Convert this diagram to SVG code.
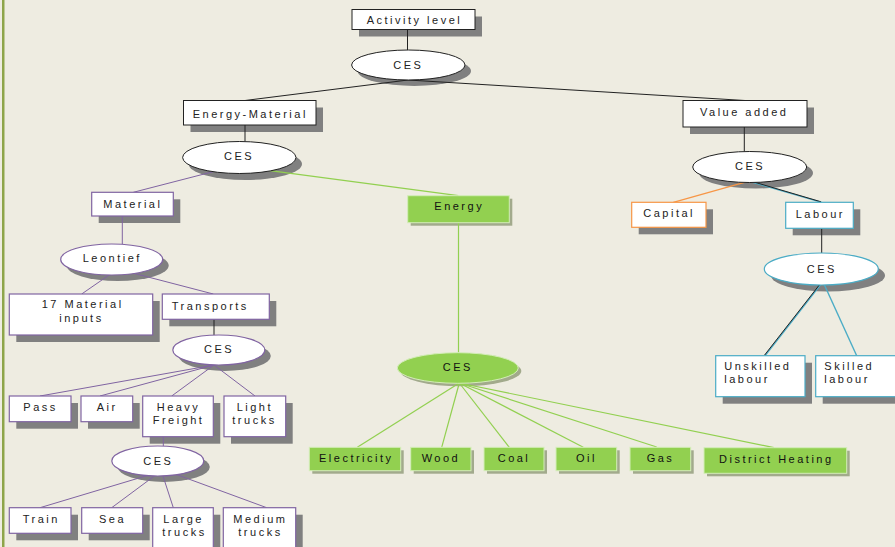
<svg xmlns="http://www.w3.org/2000/svg" width="895" height="547" viewBox="0 0 895 547">
<style>
text{font-family:"Liberation Sans",Arial,sans-serif;font-size:11px;letter-spacing:2.5px;fill:#222}
.sh{fill:#808080}
.gsh{fill:#A2AA8C}
.bk{fill:#fff;stroke:#222;stroke-width:1}
.pu{fill:#fff;stroke:#8064A2;stroke-width:1.2}
.gr{fill:#92D050;stroke:#D4EDB8;stroke-width:1}
.or{fill:#fff;stroke:#F79646;stroke-width:1.2}
.bl{fill:#fff;stroke:#4BACC6;stroke-width:1.2}
.lb{stroke:#222;stroke-width:1;fill:none}
.lp{stroke:#8064A2;stroke-width:1;fill:none}
.lg{stroke:#92D050;stroke-width:1.2;fill:none}
.lo{stroke:#F79646;stroke-width:1.2;fill:none}
.lt{stroke:#4BACC6;stroke-width:1.4;fill:none}
</style>
<rect x="0" y="0" width="895" height="547" fill="#EEECE1"/>
<rect x="2" y="0" width="2.5" height="547" fill="#8EA54A"/>

<g id="shadows">
<rect class="sh" x="359" y="16.5" width="123" height="20"/>
<ellipse class="sh" cx="414.3" cy="71" rx="56.7" ry="15"/>
<rect class="sh" x="190.5" y="107.5" width="132.5" height="24.5"/>
<rect class="sh" x="690" y="107.5" width="124" height="26.5"/>
<ellipse class="sh" cx="245.3" cy="164" rx="56.7" ry="16"/>
<rect class="sh" x="98.7" y="199.3" width="81.6" height="23.7"/>
<rect class="gsh" x="410.7" y="198.7" width="101.6" height="27"/>
<ellipse class="sh" cx="117.7" cy="265.5" rx="51" ry="15.5"/>
<rect class="sh" x="16.3" y="301" width="143.4" height="41"/>
<rect class="sh" x="169.3" y="301" width="107" height="25.3"/>
<ellipse class="sh" cx="224.8" cy="356" rx="46" ry="15"/>
<rect class="sh" x="16.3" y="403" width="61.7" height="25.7"/>
<rect class="sh" x="88" y="403" width="51.7" height="25.7"/>
<rect class="sh" x="149.7" y="403" width="70.6" height="40.7"/>
<rect class="sh" x="231" y="403" width="61.7" height="40.7"/>
<ellipse class="sh" cx="163.8" cy="467" rx="46" ry="15"/>
<rect class="sh" x="16.3" y="514.7" width="61.7" height="25.6"/>
<rect class="sh" x="88.7" y="514.7" width="61" height="25.6"/>
<rect class="sh" x="159.7" y="514.7" width="60.6" height="45"/>
<rect class="sh" x="230.3" y="514.7" width="72.4" height="45"/>
<ellipse class="gsh" cx="460.8" cy="371" rx="60.5" ry="15.3"/>
<rect class="gsh" x="312.3" y="450.3" width="91.4" height="23.4"/>
<rect class="gsh" x="413.7" y="450.3" width="60.3" height="23.4"/>
<rect class="gsh" x="487" y="450.3" width="60" height="23.4"/>
<rect class="gsh" x="559" y="450.3" width="60.7" height="23.4"/>
<rect class="gsh" x="633" y="450.3" width="60.7" height="23.4"/>
<rect class="gsh" x="707" y="450.7" width="142.7" height="25.6"/>
<ellipse class="sh" cx="756" cy="173" rx="57" ry="15.5"/>
<rect class="sh" x="638.7" y="209.3" width="74.3" height="25"/>
<rect class="sh" x="792.7" y="209.3" width="67.6" height="26"/>
<ellipse class="sh" cx="828" cy="275.5" rx="57" ry="16"/>
<rect class="sh" x="722.7" y="362.7" width="89.3" height="41"/>
<rect class="sh" x="822.7" y="362.7" width="90" height="41"/>
</g>

<g id="connectors">
<line class="lb" x1="407.5" y1="29" x2="407.5" y2="50"/>
<line class="lb" x1="408" y1="80" x2="245" y2="100.5"/>
<line class="lb" x1="408" y1="80" x2="745" y2="100.5"/>
<line class="lb" x1="245" y1="125" x2="245" y2="141.5"/>
<line class="lp" x1="222" y1="169.4" x2="133.3" y2="192.3"/>
<line class="lg" x1="255" y1="168.7" x2="458.3" y2="195.7"/>
<line class="lp" x1="122.3" y1="216" x2="122.3" y2="244"/>
<line class="lp" x1="112" y1="273" x2="81.7" y2="294"/>
<line class="lp" x1="125" y1="271" x2="213.3" y2="294"/>
<line class="lb" x1="214" y1="319.3" x2="214" y2="335"/>
<line class="lp" x1="214" y1="365" x2="40" y2="396"/>
<line class="lp" x1="214" y1="365" x2="100" y2="396"/>
<line class="lp" x1="214" y1="365" x2="171.7" y2="396"/>
<line class="lp" x1="214" y1="365" x2="255" y2="396"/>
<line class="lp" x1="163.3" y1="436.7" x2="163.3" y2="446"/>
<line class="lp" x1="150" y1="474.7" x2="40" y2="507.7"/>
<line class="lp" x1="156" y1="474.8" x2="111.7" y2="507.7"/>
<line class="lp" x1="162" y1="473" x2="173.3" y2="507.7"/>
<line class="lp" x1="165" y1="470.3" x2="266.7" y2="507.7"/>
<line class="lg" x1="458.5" y1="222.7" x2="458.5" y2="352.7"/>
<line class="lg" x1="459.3" y1="383" x2="357.3" y2="447.3"/>
<line class="lg" x1="459.3" y1="383" x2="441.7" y2="447.3"/>
<line class="lg" x1="459.3" y1="383" x2="509.3" y2="447.3"/>
<line class="lg" x1="459.3" y1="383" x2="583.3" y2="447.3"/>
<line class="lg" x1="459.3" y1="383" x2="656.7" y2="447"/>
<line class="lg" x1="459.3" y1="383" x2="774" y2="447.7"/>
<line class="lb" x1="744.3" y1="127" x2="744.3" y2="151.7"/>
<line class="lo" x1="748" y1="181.3" x2="673.3" y2="202.3"/>
<line class="lt" x1="752" y1="182" x2="821.7" y2="202.3"/>
<line class="lb" x1="751.5" y1="181.3" x2="821" y2="201.8"/>
<line class="lb" x1="821.7" y1="228.3" x2="821.7" y2="253.3"/>
<line class="lt" x1="821" y1="284" x2="765" y2="355.7"/>
<line class="lb" x1="820.4" y1="283.6" x2="764.4" y2="355.3"/>
<line class="lt" x1="824" y1="284" x2="856.7" y2="355.7"/>
</g>

<g id="activity"><rect class="bk" x="352" y="9.5" width="123" height="20"/><text x="366.7" y="24">Activity level</text></g>
<g id="ces_top"><ellipse class="bk" cx="408.3" cy="65" rx="56.7" ry="15"/><text x="393.3" y="68.5">CES</text></g>
<g id="energy_material"><rect class="bk" x="183.5" y="100.5" width="132.5" height="24.5"/><text x="192.7" y="118.3">Energy-Material</text></g>
<g id="value_added"><rect class="bk" x="683" y="100.5" width="124" height="26.5"/><text x="700" y="116">Value added</text></g>
<g id="ces_em"><ellipse class="bk" cx="239.3" cy="157.5" rx="56.7" ry="16"/><text x="224" y="160">CES</text></g>
<g id="material"><rect class="pu" x="91.7" y="192.3" width="81.6" height="23.7"/><text x="103.3" y="208.3">Material</text></g>
<g id="energy"><rect class="gr" x="407.7" y="195.7" width="101.6" height="27"/><text x="434.3" y="210" style="fill:#111">Energy</text></g>
<g id="leontief"><ellipse class="pu" cx="111.7" cy="259.5" rx="51" ry="15.5"/><text x="82.7" y="262.3">Leontief</text></g>
<g id="material_inputs"><rect class="pu" x="9.3" y="294" width="143.4" height="41"/><text x="41.7" y="308.3">17 Material</text><text x="59.3" y="321.7">inputs</text></g>
<g id="transports"><rect class="pu" x="162.3" y="294" width="107" height="25.3"/><text x="171.7" y="310">Transports</text></g>
<g id="ces_transports"><ellipse class="pu" cx="218.8" cy="350" rx="46" ry="15"/><text x="204" y="353.3">CES</text></g>
<g id="pass"><rect class="pu" x="9.3" y="396" width="61.7" height="25.7"/><text x="23.3" y="410.7">Pass</text></g>
<g id="air"><rect class="pu" x="81" y="396" width="51.7" height="25.7"/><text x="96.7" y="410.7">Air</text></g>
<g id="heavy_freight"><rect class="pu" x="142.7" y="396" width="70.6" height="40.7"/><text x="156.7" y="410.7">Heavy</text><text x="152.7" y="424">Freight</text></g>
<g id="light_trucks"><rect class="pu" x="224" y="396" width="61.7" height="40.7"/><text x="236.7" y="410.7">Light</text><text x="232.3" y="424">trucks</text></g>
<g id="ces_freight"><ellipse class="pu" cx="157.8" cy="461" rx="46" ry="15"/><text x="143.3" y="465">CES</text></g>
<g id="train"><rect class="pu" x="9.3" y="507.7" width="61.7" height="25.6"/><text x="22.7" y="522.7">Train</text></g>
<g id="sea"><rect class="pu" x="81.7" y="507.7" width="61" height="25.6"/><text x="99" y="522.7">Sea</text></g>
<g id="large_trucks"><rect class="pu" x="152.7" y="507.7" width="60.6" height="45"/><text x="163.3" y="522.7">Large</text><text x="162.3" y="536">trucks</text></g>
<g id="medium_trucks"><rect class="pu" x="223.3" y="507.7" width="72.4" height="45"/><text x="233.3" y="522.7">Medium</text><text x="238.3" y="536">trucks</text></g>
<g id="ces_energy"><ellipse class="gr" cx="457.8" cy="368" rx="60.5" ry="15.3"/><text x="442.7" y="371" style="fill:#111">CES</text></g>
<g id="electricity"><rect class="gr" x="309.3" y="447.3" width="91.4" height="23.4"/><text x="319" y="462.3" style="fill:#111">Electricity</text></g>
<g id="wood"><rect class="gr" x="410.7" y="447.3" width="60.3" height="23.4"/><text x="421.7" y="462.3" style="fill:#111">Wood</text></g>
<g id="coal"><rect class="gr" x="484" y="447.3" width="60" height="23.4"/><text x="497.7" y="462.3" style="fill:#111">Coal</text></g>
<g id="oil"><rect class="gr" x="556" y="447.3" width="60.7" height="23.4"/><text x="576" y="462.3" style="fill:#111">Oil</text></g>
<g id="gas"><rect class="gr" x="630" y="447.3" width="60.7" height="23.4"/><text x="646.7" y="462.3" style="fill:#111">Gas</text></g>
<g id="district_heating"><rect class="gr" x="704" y="447.7" width="142.7" height="25.6"/><text x="719" y="462.5" style="fill:#111">District Heating</text></g>
<g id="ces_va"><ellipse class="bk" cx="749.7" cy="167" rx="57" ry="15.5"/><text x="735" y="170">CES</text></g>
<g id="capital"><rect class="or" x="631.7" y="202.3" width="74.3" height="25"/><text x="643.3" y="217.3">Capital</text></g>
<g id="labour"><rect class="bl" x="785.7" y="202.3" width="67.6" height="26"/><text x="795.7" y="218.3">Labour</text></g>
<g id="ces_labour"><ellipse class="bl" cx="821.3" cy="269" rx="57" ry="16"/><text x="806.7" y="273.3">CES</text></g>
<g id="unskilled"><rect class="bl" x="715.7" y="355.7" width="89.3" height="41"/><text x="724.3" y="370">Unskilled</text><text x="724.3" y="382.7">labour</text></g>
<g id="skilled"><rect class="bl" x="815.7" y="355.7" width="90" height="41"/><text x="824.3" y="370">Skilled</text><text x="824.3" y="382.7">labour</text></g>
</svg>
